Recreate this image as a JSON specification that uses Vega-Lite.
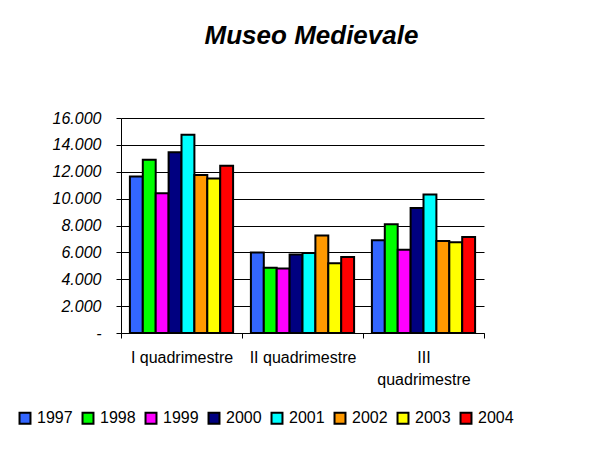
{
  "$schema": "https://vega.github.io/schema/vega-lite/v6.json",
  "autosize": "none",
  "width": 363,
  "height": 215,
  "padding": {"left": 121, "top": 118, "right": 127, "bottom": 135},
  "background": "white",
  "title": {
    "text": "Museo Medievale",
    "font": "Liberation Sans",
    "fontSize": 26,
    "fontWeight": "bold",
    "fontStyle": "italic",
    "color": "black",
    "anchor": "middle",
    "dx": 9,
    "offset": 61
  },
  "data": {
    "values": [
      {"quad": "I quadrimestre", "year": "1997", "value": 11650},
      {"quad": "I quadrimestre", "year": "1998", "value": 12900},
      {"quad": "I quadrimestre", "year": "1999", "value": 10400},
      {"quad": "I quadrimestre", "year": "2000", "value": 13450},
      {"quad": "I quadrimestre", "year": "2001", "value": 14750},
      {"quad": "I quadrimestre", "year": "2002", "value": 11750},
      {"quad": "I quadrimestre", "year": "2003", "value": 11500},
      {"quad": "I quadrimestre", "year": "2004", "value": 12450},
      {"quad": "II quadrimestre", "year": "1997", "value": 6000},
      {"quad": "II quadrimestre", "year": "1998", "value": 4850},
      {"quad": "II quadrimestre", "year": "1999", "value": 4800},
      {"quad": "II quadrimestre", "year": "2000", "value": 5850},
      {"quad": "II quadrimestre", "year": "2001", "value": 5950},
      {"quad": "II quadrimestre", "year": "2002", "value": 7250},
      {"quad": "II quadrimestre", "year": "2003", "value": 5200},
      {"quad": "II quadrimestre", "year": "2004", "value": 5650},
      {"quad": "III quadrimestre", "year": "1997", "value": 6900},
      {"quad": "III quadrimestre", "year": "1998", "value": 8100},
      {"quad": "III quadrimestre", "year": "1999", "value": 6200},
      {"quad": "III quadrimestre", "year": "2000", "value": 9300},
      {"quad": "III quadrimestre", "year": "2001", "value": 10300},
      {"quad": "III quadrimestre", "year": "2002", "value": 6850},
      {"quad": "III quadrimestre", "year": "2003", "value": 6750},
      {"quad": "III quadrimestre", "year": "2004", "value": 7150}
    ]
  },
  "mark": {"type": "bar", "stroke": "black", "strokeWidth": 2},
  "encoding": {
    "x": {
      "field": "quad",
      "type": "nominal",
      "sort": null,
      "scale": {"paddingInner": 0, "paddingOuter": 0},
      "axis": {
        "title": null,
        "labelAngle": 0,
        "tickBand": "extent",
        "tickSize": 5,
        "tickColor": "black",
        "domainColor": "black",
        "labelFont": "Liberation Sans",
        "labelFontSize": 16,
        "labelColor": "black",
        "labelPadding": 11,
        "labelLineHeight": 22,
        "labelLimit": 200,
        "labelExpr": "datum.value == 'III quadrimestre' ? ['III', 'quadrimestre'] : datum.value"
      }
    },
    "xOffset": {
      "field": "year",
      "type": "nominal",
      "scale": {"paddingInner": 0, "paddingOuter": 0.69}
    },
    "y": {
      "field": "value",
      "type": "quantitative",
      "scale": {"domain": [0, 16000]},
      "axis": {
        "title": null,
        "values": [0, 2000, 4000, 6000, 8000, 10000, 12000, 14000, 16000],
        "grid": true,
        "gridColor": "black",
        "gridWidth": 1,
        "domainColor": "black",
        "tickColor": "black",
        "tickSize": 5,
        "labelFont": "Liberation Sans",
        "labelFontSize": 16,
        "labelFontStyle": "italic",
        "labelColor": "black",
        "labelPadding": 15,
        "labelExpr": "datum.value == 0 ? '-' : replace(format(datum.value, ','), ',', '.')"
      }
    },
    "color": {
      "field": "year",
      "type": "nominal",
      "scale": {
        "domain": ["1997", "1998", "1999", "2000", "2001", "2002", "2003", "2004"],
        "range": ["#3366FF", "#00FF00", "#FF00FF", "#000080", "#00FFFF", "#FF9900", "#FFFF00", "#FF0000"]
      },
      "legend": {
        "title": null,
        "orient": "none",
        "direction": "horizontal",
        "columns": 8,
        "legendX": -104,
        "legendY": 292,
        "padding": 0,
        "symbolType": "square",
        "symbolSize": 120,
        "symbolStrokeColor": "black",
        "symbolStrokeWidth": 2,
        "symbolOpacity": 1,
        "labelFont": "Liberation Sans",
        "labelFontSize": 16,
        "labelColor": "black",
        "labelOffset": 4,
        "columnPadding": 5
      }
    }
  },
  "config": {
    "view": {"stroke": null},
    "axis": {"domainWidth": 1, "tickWidth": 1}
  }
}
